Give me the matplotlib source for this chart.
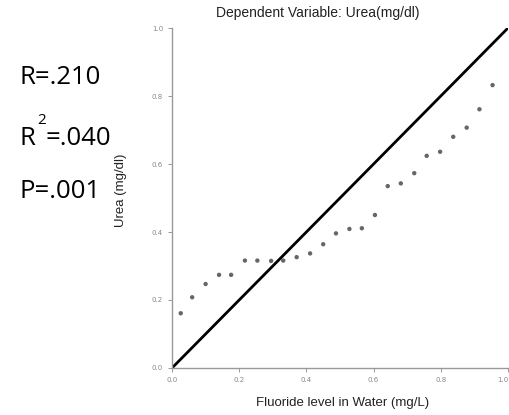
import matplotlib
matplotlib.use("Agg")
import matplotlib.pyplot as plt

# observed cumulative probability vs expected cumulative probability (P-P plot)
expected = [0.026, 0.060, 0.100, 0.140, 0.176, 0.217, 0.254, 0.295, 0.331,
            0.371, 0.411, 0.450, 0.488, 0.528, 0.565, 0.604, 0.642, 0.681,
            0.721, 0.758, 0.798, 0.837, 0.877, 0.915, 0.954]
observed = [0.161, 0.208, 0.247, 0.274, 0.274, 0.316, 0.316, 0.315, 0.316,
            0.326, 0.337, 0.364, 0.396, 0.409, 0.411, 0.450, 0.535, 0.543,
            0.573, 0.624, 0.636, 0.680, 0.707, 0.761, 0.832]
ticks = [0.0, 0.2, 0.4, 0.6, 0.8, 1.0]

W, H = 510, 415
fig = plt.figure(figsize=(W / 100, H / 100), dpi=100)
ax = fig.add_axes([172 / W, 1 - 368 / H, 336 / W, 340 / H])

ax.plot([0, 1], [0, 1], color="black", lw=2, zorder=2)
ax.scatter(expected, observed, s=10, marker="o", color="#666666",
           edgecolors="none", zorder=3)

ax.set_xlim(0, 1)
ax.set_ylim(0, 1)
ax.set_xticks(ticks)
ax.set_yticks(ticks)
ax.set_xticklabels([f"{t:.1f}" for t in ticks])
ax.set_yticklabels([f"{t:.1f}" for t in ticks])
ax.get_xticklabels()[-1].set_ha("right")
ax.tick_params(labelsize=5, colors="#888888", length=3, width=0.6)
for s in ["top", "right"]:
    ax.spines[s].set_visible(False)
for s in ["left", "bottom"]:
    ax.spines[s].set_color("#999999")
    ax.spines[s].set_linewidth(1.0)

lab = dict(color="#222222", family="Liberation Sans", ha="center", va="center")
fig.text(343 / W, 1 - 403 / H, "Fluoride level in Water (mg/L)",
         fontsize=9.5, **lab)
fig.text(121 / W, 1 - 190 / H, "Urea (mg/dl)", fontsize=9.5, rotation=90,
         **lab)
fig.text(318 / W, 1 - 13 / H, "Dependent Variable: Urea(mg/dl)",
         fontsize=10, **lab)

# statistics annotations on the left
font = dict(family="Open Sans", color="black", ha="left", va="baseline")
fig.text(20 / W, 1 - 84 / H, "R=.210", fontsize=18.5, **font)
fig.text(20 / W, 1 - 145 / H, "R", fontsize=18.5, **font)
fig.text(37 / W, 1 - 124 / H, "2", fontsize=11, **font)
fig.text(46 / W, 1 - 145 / H, "=.040", fontsize=18.5, **font)
fig.text(20 / W, 1 - 198 / H, "P=.001", fontsize=18.5, **font)

fig.savefig("out.png", dpi=100)
